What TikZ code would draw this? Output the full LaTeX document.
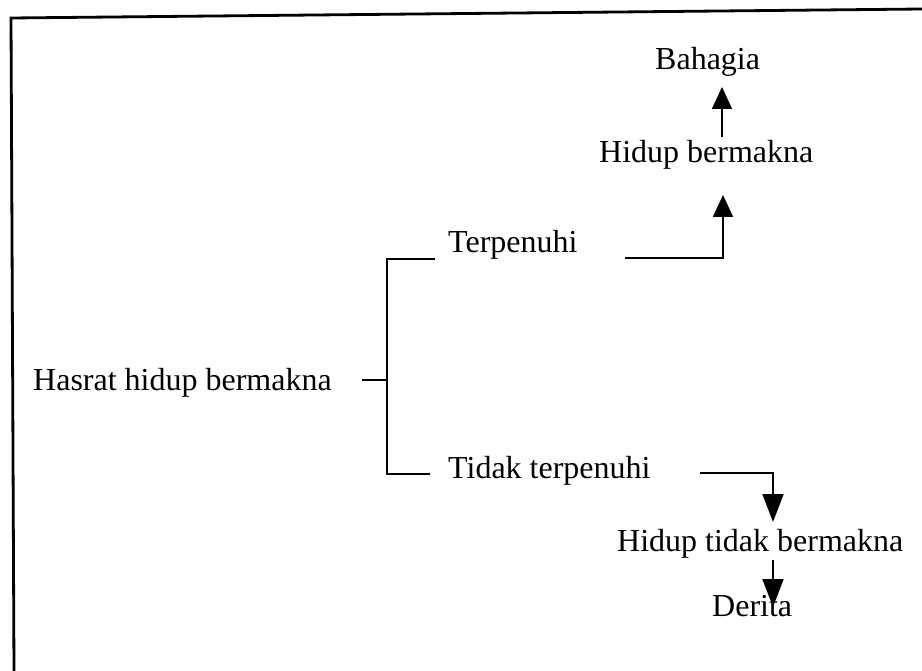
\documentclass[tikz,border=0pt]{standalone}
\usepackage{fontspec}
\setmainfont{Liberation Serif}
\usetikzlibrary{arrows.meta}
\begin{document}
\begin{tikzpicture}[x=1pt,y=-1pt,
  lbl/.style={anchor=base west,inner sep=0pt,font=\fontsize{32}{36}\selectfont},
  conn/.style={line width=1.8pt},
  uparr/.style={conn,-{Triangle[width=20pt,length=22pt]}},
  downarr/.style={conn,-{Triangle[width=21pt,length=28pt]}},
  framel/.style={line width=2.8pt}]
\useasboundingbox (0,0) rectangle (922,671);
% frame (top and left only)
\coordinate (f1) at (922,9);
\coordinate (f2) at (11,18);
\coordinate (f3) at (14,671);
\draw[framel] (f1) -- (f2) -- (f3);
% texts
\node[lbl] (bahagia) at (655,70) {Bahagia};
\node[lbl] (hb) at (599,163) {Hidup bermakna};
\node[lbl] (terp) at (448,253) {Terpenuhi};
\node[lbl] (hasrat) at (33,391) {Hasrat hidup bermakna};
\node[lbl] (tidak) at (448,478) {Tidak terpenuhi};
\node[lbl] (htb) at (617,551) {Hidup tidak bermakna};
\node[lbl] (derita) at (712,616) {Derita};
% connector points
\coordinate (h0) at (362,380);
\coordinate (bm) at (387,380);
\coordinate (bt0) at (435,259);
\coordinate (bt) at (387,259);
\coordinate (bb) at (387,474);
\coordinate (bb0) at (430,474);
\coordinate (t0) at (625,258);
\coordinate (t1) at (723,258);
\coordinate (t2) at (723,195);
\coordinate (a0) at (722,137);
\coordinate (a1) at (722,87);
\coordinate (d0) at (700,473);
\coordinate (d1) at (773,473);
\coordinate (d2) at (773,522);
\coordinate (e0) at (773,560);
\coordinate (e1) at (773,607);
% connectors
\draw[conn] (h0) -- (bm);
\draw[conn] (bt0) -- (bt) -- (bb) -- (bb0);
\draw[uparr] (t0) -- (t1) -- (t2);
\draw[uparr] (a0) -- (a1);
\draw[downarr] (d0) -- (d1) -- (d2);
\draw[downarr] (e0) -- (e1);
\end{tikzpicture}
\end{document}
